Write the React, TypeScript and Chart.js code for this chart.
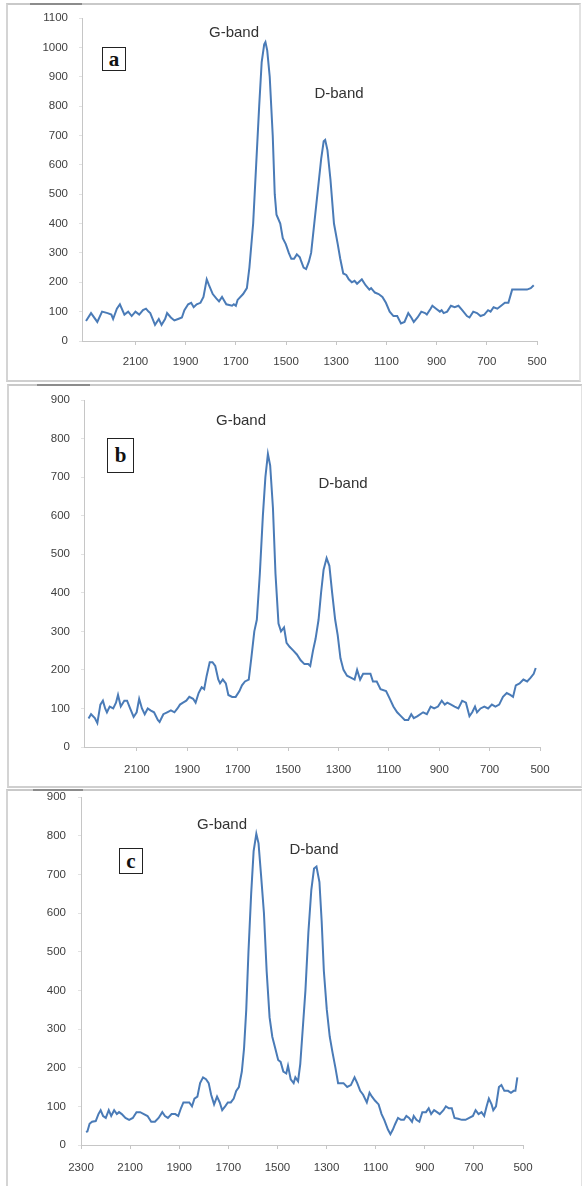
import React, { useEffect, useRef } from 'react';
import { Chart, registerables } from 'chart.js';

Chart.register(...registerables);

// ---------- Panel a ----------
const waveA = [2297, 2277, 2252, 2233, 2211, 2196, 2189, 2174, 2162, 2144, 2129, 2115, 2100, 2085, 2070, 2058, 2048, 2041, 2022, 2007, 1996, 1982, 1974, 1959, 1945, 1930, 1915, 1905, 1890, 1878, 1868, 1856, 1841, 1829, 1816, 1807, 1792, 1778, 1767, 1755, 1748, 1738, 1715, 1708, 1700, 1693, 1671, 1656, 1646, 1631, 1619, 1607, 1597, 1587, 1582, 1575, 1565, 1553, 1545, 1538, 1523, 1513, 1501, 1489, 1479, 1468, 1457, 1445, 1439, 1430, 1420, 1409, 1400, 1390, 1375, 1360, 1350, 1344, 1335, 1323, 1309, 1294, 1284, 1272, 1260, 1250, 1238, 1227, 1217, 1198, 1183, 1168, 1161, 1146, 1131, 1116, 1102, 1087, 1072, 1057, 1042, 1028, 1013, 1001, 991, 976, 961, 946, 939, 924, 917, 902, 887, 880, 872, 858, 843, 828, 813, 798, 779, 769, 754, 739, 725, 710, 695, 685, 673, 658, 643, 628, 614, 599, 584, 569, 540, 525, 513];
const intensityA = [68, 95, 65, 100, 95, 90, 75, 110, 125, 90, 100, 85, 100, 90, 105, 110, 100, 95, 55, 75, 55, 75, 95, 80, 70, 75, 80, 105, 125, 130, 115, 125, 130, 150, 210, 190, 160, 145, 135, 150, 140, 125, 120, 125, 120, 140, 160, 180, 250, 400, 600, 800, 950, 1010, 1018, 990, 900, 700, 500, 430, 400, 350, 330, 300, 280, 280, 295, 285, 270, 250, 245, 270, 300, 380, 500, 620, 680, 685, 650, 550, 400, 330, 280, 230, 225, 210, 200, 205, 195, 210, 190, 175, 180, 165, 160, 150, 130, 100, 85, 85, 60, 65, 95, 80, 65, 80, 100, 95, 90, 110, 120, 110, 100, 105, 95, 100, 120, 115, 120, 105, 85, 80, 100, 95, 85, 90, 105, 100, 115, 110, 120, 130, 130, 175, 175, 175, 175, 180, 190];

// ---------- Panel b ----------
const waveB = [2292, 2282, 2267, 2257, 2245, 2235, 2226, 2219, 2208, 2194, 2183, 2175, 2164, 2150, 2139, 2127, 2113, 2101, 2091, 2080, 2069, 2057, 2046, 2032, 2017, 2010, 1995, 1980, 1965, 1951, 1939, 1929, 1917, 1904, 1892, 1877, 1867, 1855, 1843, 1833, 1823, 1811, 1800, 1789, 1777, 1770, 1759, 1747, 1737, 1722, 1708, 1693, 1683, 1671, 1656, 1646, 1634, 1624, 1612, 1600, 1590, 1580, 1571, 1560, 1550, 1538, 1528, 1516, 1506, 1494, 1479, 1465, 1450, 1435, 1420, 1412, 1401, 1391, 1379, 1369, 1359, 1347, 1336, 1325, 1313, 1303, 1292, 1280, 1266, 1251, 1236, 1226, 1214, 1202, 1188, 1173, 1163, 1148, 1133, 1111, 1096, 1082, 1067, 1052, 1037, 1023, 1011, 1001, 986, 964, 949, 934, 920, 905, 890, 878, 868, 853, 839, 824, 809, 794, 780, 769, 758, 750, 736, 721, 706, 691, 677, 662, 647, 632, 618, 607, 596, 581, 566, 551, 537, 525, 517];
const intensityB = [74, 85, 75, 62, 110, 120, 100, 90, 105, 100, 115, 135, 105, 120, 120, 100, 78, 90, 125, 100, 85, 100, 95, 90, 70, 65, 85, 90, 95, 90, 100, 110, 115, 120, 130, 125, 115, 140, 155, 150, 185, 220, 220, 210, 175, 165, 175, 165, 135, 130, 130, 145, 160, 170, 175, 230, 300, 330, 450, 600, 700, 760, 730, 620, 450, 320, 300, 310, 270, 260, 250, 240, 225, 215, 215, 210, 250, 280, 330, 400, 460, 490, 470, 400, 330, 290, 230, 200, 185, 180, 175, 200, 175, 190, 190, 190, 170, 170, 150, 145, 125, 105, 90, 80, 70, 70, 85, 75, 80, 90, 85, 105, 100, 105, 120, 110, 115, 110, 105, 100, 120, 115, 80, 90, 105, 90, 100, 105, 100, 110, 105, 110, 130, 140, 135, 130, 160, 165, 175, 170, 180, 190, 205];

// ---------- Panel c ----------
const waveC = [2280, 2274, 2265, 2255, 2240, 2229, 2220, 2210, 2199, 2187, 2177, 2165, 2154, 2145, 2134, 2119, 2104, 2089, 2074, 2059, 2044, 2029, 2014, 1999, 1984, 1969, 1958, 1946, 1931, 1916, 1904, 1893, 1883, 1871, 1859, 1848, 1838, 1826, 1815, 1803, 1791, 1780, 1770, 1758, 1746, 1735, 1725, 1713, 1702, 1690, 1678, 1668, 1657, 1645, 1636, 1627, 1618, 1607, 1597, 1586, 1577, 1567, 1555, 1544, 1532, 1521, 1509, 1497, 1487, 1476, 1464, 1457, 1446, 1434, 1427, 1416, 1407, 1397, 1386, 1374, 1362, 1351, 1341, 1329, 1320, 1311, 1299, 1287, 1276, 1264, 1253, 1241, 1231, 1216, 1201, 1186, 1175, 1163, 1151, 1136, 1125, 1115, 1103, 1088, 1076, 1065, 1050, 1040, 1030, 1020, 1009, 997, 985, 975, 964, 952, 945, 934, 922, 910, 895, 884, 874, 862, 850, 839, 824, 814, 802, 790, 779, 764, 749, 734, 719, 704, 693, 681, 669, 658, 648, 639, 628, 621, 610, 598, 588, 576, 561, 549, 538, 531, 523];
const intensityC = [34, 35, 55, 60, 62, 80, 90, 75, 70, 90, 75, 90, 80, 85, 80, 70, 65, 70, 85, 85, 80, 75, 60, 60, 70, 85, 75, 70, 80, 80, 75, 95, 110, 110, 110, 100, 120, 125, 160, 175, 170, 160, 130, 105, 125, 110, 90, 100, 110, 110, 120, 140, 150, 190, 250, 350, 500, 650, 760, 805, 780, 700, 600, 450, 330, 280, 250, 220, 215, 190, 185, 205, 170, 160, 175, 165, 210, 300, 400, 550, 660, 715, 720, 680, 580, 450, 350, 280, 240, 200, 160, 160, 160, 150, 155, 175, 160, 140, 130, 110, 135, 125, 115, 105, 80, 65, 40, 28, 40, 55, 70, 65, 65, 75, 70, 60, 75, 65, 60, 85, 85, 95, 80, 90, 85, 80, 90, 100, 95, 95, 70, 68, 65, 65, 70, 75, 90, 80, 85, 75, 100, 120, 105, 90, 100, 150, 155, 140, 140, 135, 140, 140, 175];

// ---------- Tick labels ----------
const xTickLabelsAB = [2100, 1900, 1700, 1500, 1300, 1100, 900, 700, 500];
const xTickLabelsC = [2300, 2100, 1900, 1700, 1500, 1300, 1100, 900, 700, 500];
const yMaxA = 1100;
const yMaxBC = 900;
const bandLabels = ['G-band', 'D-band'];
const panelLetters = ['a', 'b', 'c'];

const LINE_COLOR = '#4a7bb7';
const TICK_COLOR = '#404040';
const AXIS_COLOR = '#c6c6c6';

type PanelProps = {
  top: number;
  height: number;
  xMax: number;
  yMax: number;
  area: { left: number; right: number; top: number; bottom: number };
  xs: number[];
  ys: number[];
  xTicks: number[];
  yPad: number;
  xPad: number;
};

function Panel(p: PanelProps) {
  const ref = useRef<HTMLCanvasElement | null>(null);
  useEffect(() => {
    if (!ref.current) return;
    const tickFont = { family: '"Liberation Sans", Arial, sans-serif', size: 11.5 };
    const chart = new Chart(ref.current, {
      type: 'line',
      data: {
        datasets: [
          {
            data: p.xs.map((x, i) => ({ x, y: p.ys[i] })),
            borderColor: LINE_COLOR,
            borderWidth: 2,
            pointRadius: 0,
            tension: 0,
            fill: false,
          },
        ],
      },
      options: {
        responsive: false,
        animation: false,
        events: [],
        layout: { padding: { left: 0, top: p.area.top, right: 582 - p.area.right, bottom: 0 } },
        plugins: { legend: { display: false }, tooltip: { enabled: false } },
        scales: {
          x: {
            type: 'linear',
            reverse: true,
            min: 500,
            max: p.xMax,
            afterBuildTicks: (s: any) => {
              s.ticks = p.xTicks.map((v) => ({ value: v }));
            },
            afterFit: (s: any) => {
              s.height = p.height - p.area.bottom;
              s.paddingLeft = 0;
              s.paddingRight = 0;
            },
            grid: { display: true, drawOnChartArea: false, drawTicks: true, tickLength: 4, color: AXIS_COLOR },
            border: { display: true, color: AXIS_COLOR, width: 1 },
            ticks: { padding: p.xPad, color: TICK_COLOR, font: tickFont, autoSkip: false, maxRotation: 0, callback: (v: any) => String(v) },
          },
          y: {
            min: 0,
            max: p.yMax,
            afterFit: (s: any) => {
              s.width = p.area.left;
              s.paddingTop = 0;
              s.paddingBottom = 0;
            },
            grid: { display: true, drawOnChartArea: false, drawTicks: true, tickLength: 3, color: '#e2e2e2' },
            border: { display: true, color: AXIS_COLOR, width: 1 },
            ticks: { stepSize: 100, padding: p.yPad, color: TICK_COLOR, font: tickFont, callback: (v: any) => String(v) },
          },
        },
      },
    } as any);
    return () => chart.destroy();
  }, []);
  return (
    <canvas
      ref={ref}
      width={582}
      height={p.height}
      style={{ position: 'absolute', left: 0, top: p.top, width: 582, height: p.height }}
    />
  );
}

const bandStyle: React.CSSProperties = {
  position: 'absolute',
  fontFamily: '"Liberation Sans", Arial, sans-serif',
  fontSize: 15,
  color: '#333',
  transform: 'translate(-50%, -50%)',
  whiteSpace: 'nowrap',
  lineHeight: 1,
};

function Band({ x, y, text }: { x: number; y: number; text: string }) {
  return <div style={{ ...bandStyle, left: x, top: y }}>{text}</div>;
}

function Letter({ x, y, w, h, text }: { x: number; y: number; w: number; h: number; text: string }) {
  return (
    <div
      style={{
        position: 'absolute',
        left: x,
        top: y,
        width: w,
        height: h,
        boxSizing: 'border-box',
        border: '1px solid #222',
        display: 'flex',
        alignItems: 'center',
        justifyContent: 'center',
        fontFamily: '"Liberation Serif", "Times New Roman", serif',
        fontWeight: 'bold',
        fontSize: 21,
        color: '#111',
        lineHeight: 1,
        background: '#fff',
      }}
    >
      {text}
    </div>
  );
}

function Frame({ x, y, w, h, tabX, tabW }: { x: number; y: number; w: number; h: number; tabX: number; tabW: number }) {
  return (
    <>
      <div
        style={{
          position: 'absolute',
          left: x,
          top: y,
          width: w,
          height: h,
          boxSizing: 'border-box',
          borderTop: '2px solid #c9c9c9',
          borderLeft: '2px solid #d4d4d4',
          borderRight: '2px solid #e2e2e2',
          borderBottom: '2px solid #cfcfcf',
        }}
      />
      <div style={{ position: 'absolute', left: tabX, top: y, width: tabW, height: 2, background: '#8c8c8c' }} />
    </>
  );
}

export default function App() {
  return (
    <div style={{ position: 'absolute', left: 0, top: 0, width: 582, height: 1186, background: '#fff', overflow: 'hidden' }}>
      <Frame x={6} y={3} w={575} h={379} tabX={30} tabW={52} />
      <Frame x={7} y={384} w={576} h={404} tabX={37} tabW={53} />
      <Frame x={6} y={789} w={577} h={410} tabX={33} tabW={50} />

      <Panel top={0} height={384} xMax={2313} yMax={yMaxA} area={{ left: 82, right: 537, top: 18, bottom: 341 }} xs={waveA} ys={intensityA} xTicks={xTickLabelsAB} yPad={11} xPad={10} />
      <Panel top={385} height={402} xMax={2310} yMax={yMaxBC} area={{ left: 84, right: 540, top: 15, bottom: 362 }} xs={waveB} ys={intensityB} xTicks={xTickLabelsAB} yPad={11} xPad={12} />
      <Panel top={790} height={396} xMax={2300} yMax={yMaxBC} area={{ left: 81, right: 523, top: 7, bottom: 355 }} xs={waveC} ys={intensityC} xTicks={xTickLabelsC} yPad={12} xPad={12} />

      <Band x={234} y={31} text={bandLabels[0]} />
      <Band x={339} y={92} text={bandLabels[1]} />
      <Band x={241} y={419} text={bandLabels[0]} />
      <Band x={343} y={482} text={bandLabels[1]} />
      <Band x={222} y={823} text={bandLabels[0]} />
      <Band x={314} y={848} text={bandLabels[1]} />

      <Letter x={102} y={47} w={24} h={24} text={panelLetters[0]} />
      <Letter x={107} y={438} w={27} h={35} text={panelLetters[1]} />
      <Letter x={119} y={848} w={24} h={26} text={panelLetters[2]} />
    </div>
  );
}
